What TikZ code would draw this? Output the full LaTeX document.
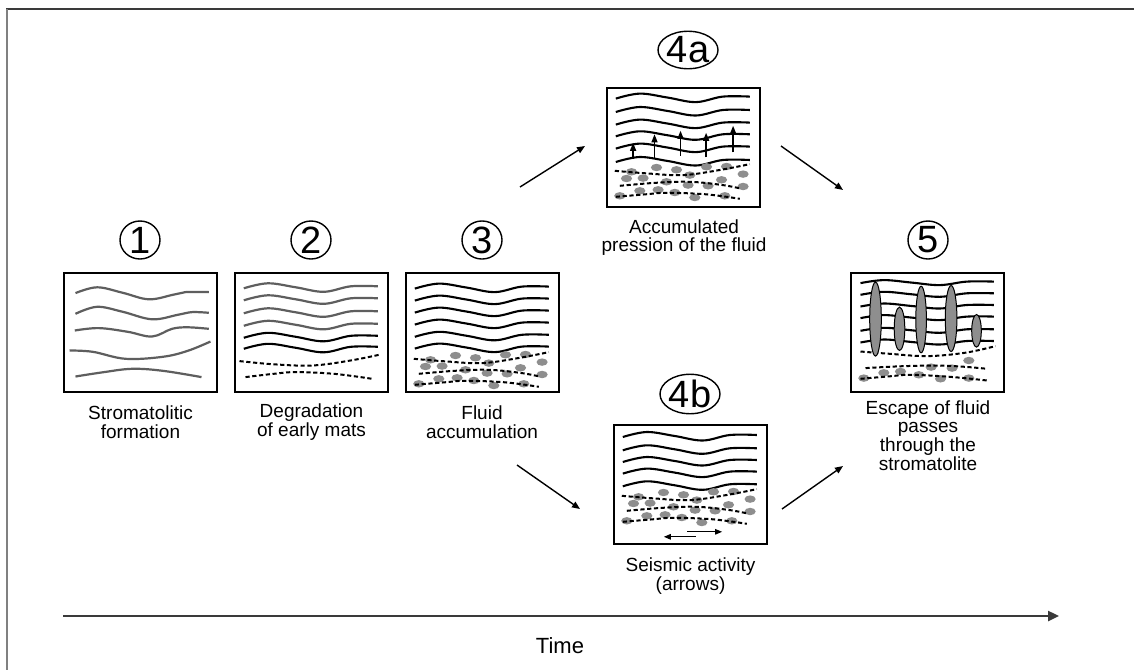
\documentclass[tikz,border=0pt]{standalone}
\usepackage{fontspec}
\setmainfont{Liberation Sans}
\usetikzlibrary{arrows.meta,shapes.geometric}

\definecolor{matgray}{HTML}{5E5E5E}
\definecolor{blobgray}{HTML}{8E8E8E}
\definecolor{framegray}{HTML}{3A3A3A}

% one wavy mat layer: #1 style, #2 base height
\newcommand{\matlayer}[2]{%
  \draw[#1] plot[smooth,tension=0.6] coordinates
    {(10,#2+1.5) (34,#2-3.5) (62,#2+0.5) (90,#2+5) (117,#2-0.5) (144,#2-0.5)};}

% porous layer with trapped fluid (dashed horizons and gray pockets)
\newcommand{\fluidzone}{%
  \foreach \bx/\by in {25.7/88,50.7/83.7,70.7/86,100.7/83,120.7/82.7,137.3/90.3,
      20.7/94.7,37.3/94.3,84/91.3,115.7/96,137.3/102.7,60.7/98,34/107,52.3/106,
      82.3/101.3,102.3/102,14/112,69/108.7,89/113.7,119/112}
    \fill[blobgray] (\bx,\by) ellipse [x radius=5.6pt, y radius=3.7pt];
  \draw[dashline] plot[smooth,tension=0.6] coordinates {(9,87) (40,89.5) (77.3,91.3) (115,86) (144,80.3)};
  \draw[dashline] plot[smooth,tension=0.6] coordinates {(14,102) (50,99) (84,98) (115,101) (134,104.5)};
  \draw[dashline] plot[smooth,tension=0.6] coordinates {(10,113) (40,110.5) (60.7,109) (100,110.5) (134,115)};}

\tikzset{
  panelbox/.style={draw=black, line width=2.4pt, minimum width=153pt, minimum height=119pt, inner sep=0pt},
  grayline/.style={draw=matgray, line width=2.2pt},
  blackline/.style={draw=black, line width=2.1pt},
  dashline/.style={draw=black, line width=2pt, dash pattern=on 4.2pt off 2.6pt},
  numlabel/.style={draw=black, line width=1.4pt, ellipse, inner sep=0pt, minimum width=40pt, minimum height=38pt,
    font=\fontsize{38}{38}\selectfont},
  caption/.style={align=center, font=\fontsize{19}{18.8}\selectfont, inner sep=0pt},
  flow/.style={draw=black, line width=1.4pt, -{Triangle[length=8pt,width=6.5pt]}},
  push/.style={draw=black, line width=1.3pt, -{Triangle[length=8pt,width=6pt]}},
  shear/.style={draw=black, line width=1.2pt, -{Triangle[length=7pt,width=5.5pt]}},
  vent/.style={draw=black, line width=1pt, fill=blobgray}
}

\begin{document}
\begin{tikzpicture}[x=1pt,y=-1pt]
\useasboundingbox (0,0) rectangle (1134,670);
\fill[white] (0,0) rectangle (1134,670);

% outer frame
\draw[draw=framegray, line width=2.2pt] (6,9) -- (1134,9);
\draw[draw=gray, line width=2.2pt] (7,9) -- (7,670);

% panels
\node[panelbox] (p1)  at (140.5,332.5) {};
\node[panelbox] (p2)  at (311.5,332.5) {};
\node[panelbox] (p3)  at (482.5,332.5) {};
\node[panelbox] (p4a) at (683.5,147.5) {};
\node[panelbox] (p4b) at (690.5,484.5) {};
\node[panelbox] (p5)  at (927.5,332.5) {};

% 1: stromatolitic formation
\begin{scope}[shift={(p1.north west)}]
  \draw[grayline] plot[smooth,tension=0.6] coordinates {(12.7,21.3) (34.3,15.5) (60,21) (86,27.5) (110,23) (122.7,20.3) (146,20.3)};
  \draw[grayline] plot[smooth,tension=0.6] coordinates {(12.7,42) (34.3,35) (60,40) (89.3,47.5) (115,43) (129.3,40.3) (146,41)};
  \draw[grayline] plot[smooth,tension=0.6] coordinates {(12,58.7) (36,56.3) (65,60) (89.3,64.7) (109.3,57) (125,55.5) (146,57)};
  \draw[grayline] plot[smooth,tension=0.6] coordinates {(6.7,78.7) (30,80) (62.7,87) (100,85) (125,79) (147.7,69.7)};
  \draw[grayline] plot[smooth,tension=0.6] coordinates {(12.7,104.7) (40,100.5) (69.3,97) (100,99) (138.7,105.3)};
\end{scope}

% 2: degradation of early mats
\begin{scope}[shift={(p2.north west)}]
  \matlayer{grayline}{15}
  \matlayer{grayline}{27}
  \matlayer{grayline}{40}
  \matlayer{grayline}{52.5}
  \matlayer{blackline}{64.5}
  \matlayer{blackline}{75.5}
  \draw[dashline] plot[smooth,tension=0.6] coordinates {(5.7,89.3) (40,92.5) (78.3,93.7) (115,89) (146.7,82.7)};
  \draw[dashline] plot[smooth,tension=0.6] coordinates {(11.7,105.3) (40,102) (61.7,100.3) (100,102) (138.3,107)};
\end{scope}

% 3: fluid accumulation
\begin{scope}[shift={(p3.north west)}]
  \foreach \yy in {15.3,27.3,39.3,51.3,63.5,75.3} {\matlayer{blackline}{\yy}}
  \fluidzone
\end{scope}

% 4a: accumulated pressure of the fluid
\begin{scope}[shift={(p4a.north west)}]
  \foreach \yy in {10.3,23.7,36.3,48,60.3,73.7} {\matlayer{blackline}{\yy}}
  \begin{scope}[shift={(0,-3)}]\fluidzone\end{scope}
  \draw[push] (27.3,72) -- (27.3,56);
  \draw[push] (48.7,72) -- (48.7,47.5);
  \draw[push] (74.7,69) -- (74.7,44);
  \draw[push] (100.3,70.5) -- (100.3,46);
  \draw[push] (127.3,65.5) -- (127.3,39);
\end{scope}

% 4b: seismic activity
\begin{scope}[shift={(p4b.north west)}]
  \foreach \yy in {11.7,25,36.7,48.3,61} {\matlayer{blackline}{\yy}}
  \begin{scope}[shift={(0,-15)}]\fluidzone\end{scope}
  \draw[shear] (82.7,113) -- (51,113);
  \draw[shear] (74.3,108) -- (109.3,108);
\end{scope}

% 5: escape of fluid through the stromatolite
\begin{scope}[shift={(p5.north west)}]
  \foreach \yy in {10.3,22,33.7,45.3,58,69.7}
    \draw[blackline] plot[smooth,tension=0.6] coordinates
      {(10.7,\yy+1) (34,\yy-2) (62,\yy+0.5) (90,\yy+3) (117,\yy-0.5) (144,\yy-0.5)};
  \foreach \bx/\by in {34/101,50.7/99.7,81.3/95.3,102.3/96.3,119/88.7,14/106.3,69/103,90.7/107,119/106.3}
    \fill[blobgray] (\bx,\by) ellipse [x radius=5.6pt, y radius=3.7pt];
  \draw[dashline] plot[smooth,tension=0.6] coordinates {(10.7,79.7) (40,82) (77.3,84.3) (115,81) (145.7,74.3)};
  \draw[dashline] plot[smooth,tension=0.6] coordinates {(15.7,96.3) (50,94.5) (87.3,93.7) (115,95) (137.3,97)};
  \draw[dashline] plot[smooth,tension=0.6] coordinates {(10.7,107) (40,104.5) (60.7,103) (100,105) (137.3,108.7)};
  \draw[vent] (25.7,47.3) ellipse [x radius=5.8pt, y radius=37pt];
  \draw[vent] (49.7,57) ellipse [x radius=5.3pt, y radius=21.7pt];
  \draw[vent] (71.3,47.7) ellipse [x radius=5.3pt, y radius=33.3pt];
  \draw[vent] (101.3,46.7) ellipse [x radius=5.8pt, y radius=33pt];
  \draw[vent] (126.7,59) ellipse [x radius=4.8pt, y radius=16.3pt];
\end{scope}

% stage numbers
\node[numlabel] (n1)  at (140,240) {1};
\node[numlabel] (n2)  at (311,240) {2};
\node[numlabel] (n3)  at (482,240) {3};
\node[numlabel, minimum width=60pt, minimum height=37pt] (n4a) at (688,50) {4a};
\node[numlabel, minimum width=60pt, minimum height=37pt] (n4b) at (690,394) {4b};
\node[numlabel] (n5)  at (928,240) {5};

% captions
\node[caption] (c1)  at (140.5,422) {Stromatolitic\\formation};
\node[caption] (c2)  at (311.5,422) {Degradation\\of early mats};
\node[caption] (c3)  at (482,422) {Fluid\\accumulation};
\node[caption] (c4a) at (684,237.5) {Accumulated\\pression of the fluid};
\node[caption] (c4b) at (690.5,576) {Seismic activity\\(arrows)};
\node[caption] (c5)  at (928,435.5) {Escape of fluid\\passes\\through the\\stromatolite};

% transitions between stages
\coordinate (f1a) at (520,187);  \coordinate (f1b) at (585,146);
\coordinate (f2a) at (781,146);  \coordinate (f2b) at (843,190);
\coordinate (f3a) at (517,465);  \coordinate (f3b) at (580,509);
\coordinate (f4a) at (782,509);  \coordinate (f4b) at (843,466);
\draw[flow] (f1a) -- (f1b);
\draw[flow] (f2a) -- (f2b);
\draw[flow] (f3a) -- (f3b);
\draw[flow] (f4a) -- (f4b);

% time axis
\coordinate (t0) at (63,616);
\coordinate (t1) at (1059,616);
\draw[draw=framegray, line width=2.4pt, -{Triangle[length=11pt,width=10pt]}] (t0) -- (t1);
\node[caption, font=\fontsize{22}{22}\selectfont] (tl) at (560,646) {Time};
\end{tikzpicture}
\end{document}
